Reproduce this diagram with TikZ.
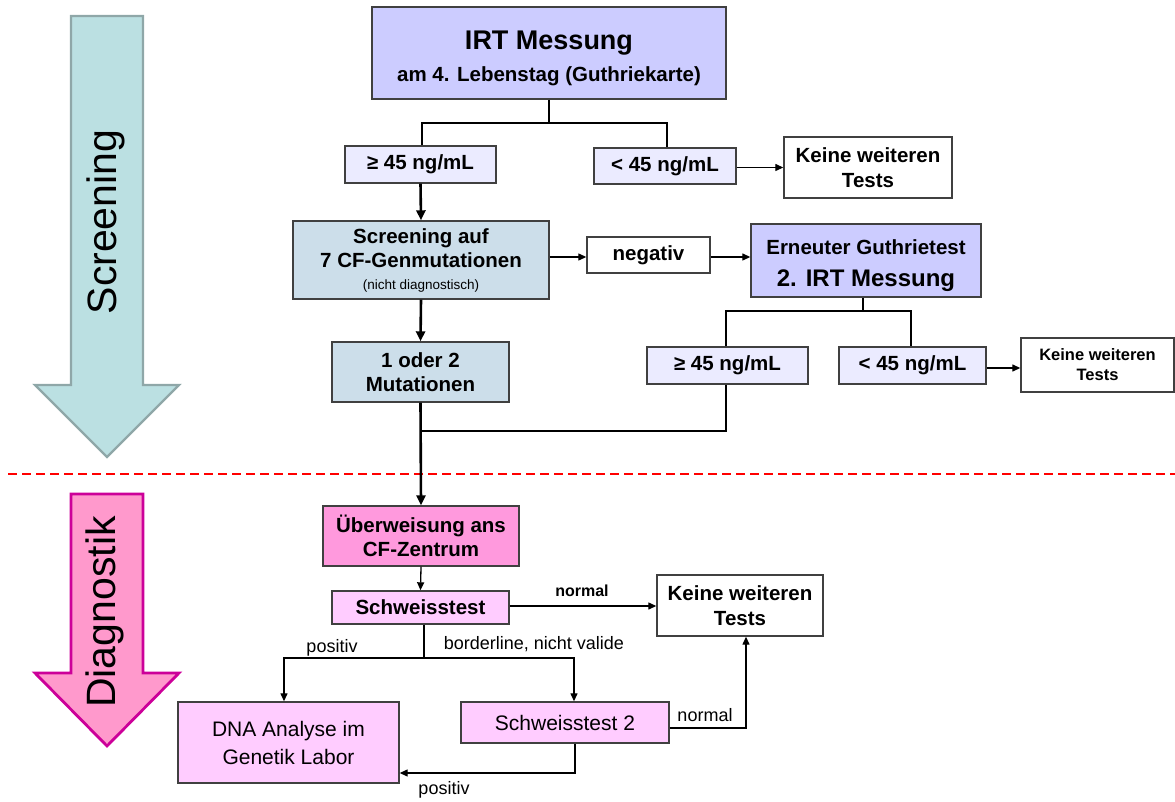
\documentclass[tikz,border=0pt]{standalone}
\usepackage{fontspec}
\setmainfont{Liberation Sans}
\usetikzlibrary{arrows.meta}
\definecolor{bordergray}{RGB}{64,64,64}
\definecolor{irtfill}{RGB}{204,204,255}
\definecolor{gefill}{RGB}{235,235,255}
\definecolor{scrfill}{RGB}{204,222,234}
\definecolor{uebfill}{RGB}{255,153,221}
\definecolor{pinkfill}{RGB}{255,204,255}
\definecolor{scrarrowfill}{RGB}{187,224,226}
\definecolor{scrarrowdraw}{RGB}{143,167,168}
\definecolor{diaarrowfill}{RGB}{255,153,204}
\definecolor{diaarrowdraw}{RGB}{204,0,153}
\begin{document}
\begin{tikzpicture}[x=1pt,y=-1pt]
\tikzset{
  box/.style={draw=bordergray, line width=1.4pt, inner sep=0pt, align=center},
  bf/.style={font=\bfseries\fontsize{20.5}{24.5}\selectfont},
  rg/.style={font=\fontsize{21}{28}\selectfont},
  conn/.style={line width=1.3pt, draw=black},
  arr/.style={conn, -{Triangle[length=8pt,width=7pt]}},
  thickarr/.style={line width=2.6pt, draw=black, -{Triangle[length=10pt,width=9pt]}},
  lbl/.style={font=\fontsize{18}{20}\selectfont, inner sep=0pt},
  lblb/.style={font=\bfseries\fontsize{16}{18}\selectfont, inner sep=0pt},
  phase/.style={font=\fontsize{41}{44}\selectfont, rotate=90, inner sep=0pt},
}
\useasboundingbox (0,0) rectangle (1175,802);

% phase arrows
\draw[fill=scrarrowfill, draw=scrarrowdraw, line width=2.4pt, line join=miter]
  (71,16) -- (143,16) -- (143,385) -- (179,385) -- (107,457) -- (35,385) -- (71,385) -- cycle;
\node[phase] (screeninglbl) at (106,222) {Screening};
\draw[fill=diaarrowfill, draw=diaarrowdraw, line width=2.8pt, line join=miter]
  (71,494) -- (143,494) -- (143,673) -- (179,673) -- (107,746) -- (35,673) -- (71,673) -- cycle;
\node[phase] (diagnostiklbl) at (105,612) {Diagnostik};

% separator
\coordinate (sepL) at (8,474);
\coordinate (sepR) at (1175,474);
\draw[red, line width=1.6pt, dash pattern=on 9pt off 5pt] (sepL) -- (sepR);

% boxes
\node[box, fill=irtfill, minimum width=354pt, minimum height=92pt] (irt) at (549,53) {};
\node[font=\bfseries\fontsize{20.5}{32}\selectfont, align=center, inner sep=0pt, anchor=base] (irttxt) at (549,82)
  {{\fontsize{27}{32}\selectfont IRT Messung}\\am 4. Lebenstag (Guthriekarte)};
\node[box, bf, fill=gefill, minimum width=151pt, minimum height=37pt] (ge1) at (420.5,164.5) {≥ 45 ng/mL};
\node[box, bf, fill=gefill, minimum width=142pt, minimum height=36pt] (lt1) at (665,166) {< 45 ng/mL};
\node[box, bf, fill=white, minimum width=168pt, minimum height=61pt] (keine1) at (868,167.5) {Keine weiteren\\Tests};
\node[box, bf, fill=scrfill, minimum width=256pt, minimum height=78pt] (scr) at (421,260)
  {Screening auf\\7 CF-Genmutationen\\[-3pt]{\mdseries\fontsize{13.5}{16}\selectfont (nicht diagnostisch)}};
\node[box, bf, fill=white, minimum width=123pt, minimum height=36pt] (neg) at (648.5,255) {negativ};
\node[box, fill=irtfill, minimum width=230pt, minimum height=73pt] (ern) at (866,260.5) {};
\node[font=\bfseries\fontsize{20.5}{32}\selectfont, align=center, inner sep=0pt, anchor=base] (erntxt) at (866,287)
  {Erneuter Guthrietest\\{\fontsize{24}{32}\selectfont 2. IRT Messung}};
\node[box, bf, fill=gefill, minimum width=161pt, minimum height=37pt] (ge2) at (727.5,365.5) {≥ 45 ng/mL};
\node[box, bf, fill=gefill, minimum width=147pt, minimum height=37pt] (lt2) at (912.5,365.5) {< 45 ng/mL};
\node[box, fill=white, minimum width=153pt, minimum height=54pt, font=\bfseries\fontsize{16.5}{20}\selectfont] (keine2) at (1097.5,365) {Keine weiteren\\Tests};
\node[box, bf, fill=scrfill, minimum width=177pt, minimum height=60pt] (mut) at (420.5,372) {1 oder 2\\Mutationen};
\node[box, bf, fill=uebfill, minimum width=196pt, minimum height=60pt] (ueb) at (421,536) {Überweisung ans\\CF-Zentrum};
\node[box, bf, fill=pinkfill, minimum width=177pt, minimum height=33pt] (sch) at (420.5,607.5) {Schweisstest};
\node[box, bf, fill=white, minimum width=166pt, minimum height=61pt] (keine3) at (740,605.5) {Keine weiteren\\Tests};
\node[box, rg, fill=pinkfill, minimum width=221pt, minimum height=81pt] (dna) at (288.5,742.5) {DNA Analyse im\\Genetik Labor};
\node[box, rg, fill=pinkfill, minimum width=208pt, minimum height=41pt] (sch2) at (565,722.5) {Schweisstest 2};

% junctions
\coordinate (j1) at (549,123);
\coordinate (j2) at (863,311);
\coordinate (j3) at (421,431);
\coordinate (j4) at (424,658);

% connectors
\draw[conn] (irt.south) -- (j1);
\draw[conn] ([xshift=1.5pt]ge1.north) |- (j1) -| ([xshift=2pt]lt1.north);
\draw[arr] (lt1.east |- keine1.west) -- (keine1.west);
\draw[thickarr] (ge1.south) -- (scr.north);
\draw[arr] (scr.east |- 0,257) -- (neg.west |- 0,257);
\draw[arr] (neg.east |- 0,257) -- (ern.west |- 0,257);
\draw[conn] ([xshift=-3pt]ern.south) -- (j2);
\draw[conn] ([xshift=-1.5pt]ge2.north) |- (j2) -| ([xshift=-1.5pt]lt2.north);
\draw[arr] (lt2.east |- 0,368) -- (keine2.west |- 0,368);
\draw[thickarr] (scr.south) -- (mut.north);
\draw[thickarr] (mut.south) -- (ueb.north);
\draw[conn] ([xshift=-1.5pt]ge2.south) |- (j3);
\draw[arr] (ueb.south) -- (sch.north);
\draw[arr] (sch.east |- 0,606) -- (keine3.west |- 0,606);
\draw[conn] ([xshift=3.5pt]sch.south) -- (j4);
\draw[arr] (j4) -| ([xshift=-4.5pt]dna.north);
\draw[arr] (j4) -| ([xshift=9pt]sch2.north);
\draw[arr] (sch2.east |- 0,728) -| ([xshift=6pt]keine3.south);
\draw[arr] ([xshift=10pt]sch2.south) |- (dna.east |- 0,773);

% labels
\node[lblb] (lnormal1) at (582,591) {normal};
\node[lbl] (lpositiv1) at (332,648) {positiv};
\node[lbl] (lborder) at (534,644) {borderline, nicht valide};
\node[lbl] (lnormal2) at (705,715) {normal};
\node[lbl] (lpositiv2) at (444,790) {positiv};
\end{tikzpicture}
\end{document}
